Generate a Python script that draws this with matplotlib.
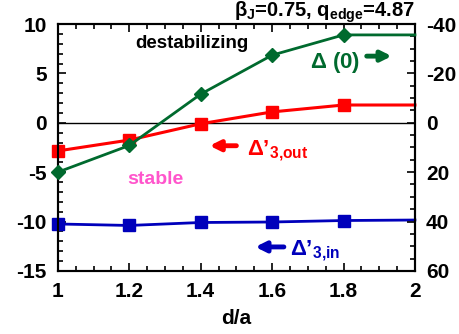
import numpy as np
import matplotlib
matplotlib.use("Agg")
import matplotlib.pyplot as plt
from matplotlib.ticker import MultipleLocator

plt.rcParams['font.family'] = ['Liberation Sans', 'DejaVu Sans']
plt.rcParams['font.weight'] = 'bold'
plt.rcParams['axes.unicode_minus'] = False
plt.rcParams['mathtext.fontset'] = 'custom'
plt.rcParams['mathtext.rm'] = 'Liberation Sans'
plt.rcParams['mathtext.bf'] = 'Liberation Sans:bold'
plt.rcParams['mathtext.it'] = 'Liberation Sans:italic'

# scan over wall position d/a
d_over_a = [1.0, 1.2, 1.4, 1.6, 1.8, 2.0]
delta3_out = [-2.85, -1.75, -0.1, 1.1, 1.8, 1.8]
delta3_in = [-10.25, -10.4, -10.1, -10.05, -9.9, -9.85]
delta0 = [20.0, 9.2, -11.6, -27.4, -35.6, -35.6]

green = '#006a2e'
red = '#ff0000'
blue = '#0000bb'
pink = '#ff55cc'

fig = plt.figure(figsize=(4.59, 3.34), dpi=100)
ax = fig.add_axes([0.126, 0.189, 0.778, 0.739])
ax2 = ax.twinx()

# last point (d/a = 2) only continues the line, no marker
mk = [0, 1, 2, 3, 4]
ax.axhline(0, color='black', lw=1.0, zorder=1)
ax.plot(d_over_a, delta3_out, color=red, lw=2.2, marker='s', ms=8,
        markevery=mk, clip_on=False, zorder=3)
ax.plot(d_over_a, delta3_in, color=blue, lw=2.0, marker='s', ms=8,
        markevery=mk, clip_on=False, zorder=3)
ax2.plot(d_over_a, delta0, color=green, lw=2.0, marker='D', ms=7,
         markevery=mk, clip_on=False, zorder=3)

ax.set_xlim(1, 2)
ax.set_ylim(-15, 10)
ax2.set_ylim(60, -40)

ax.xaxis.set_major_locator(MultipleLocator(0.2))
ax.xaxis.set_minor_locator(MultipleLocator(0.05))
ax.yaxis.set_major_locator(MultipleLocator(5))
ax.yaxis.set_minor_locator(MultipleLocator(1))
ax2.yaxis.set_major_locator(MultipleLocator(20))
ax2.yaxis.set_minor_locator(MultipleLocator(5))
ax.set_xticks(d_over_a)
ax.set_xticklabels(['1', '1.2', '1.4', '1.6', '1.8', '2'])

ax.tick_params(axis='x', which='both', direction='in', top=True, bottom=True)
ax.tick_params(axis='y', which='both', direction='in', left=True, right=False)
ax2.tick_params(axis='y', which='both', direction='in', right=True)
for a in (ax, ax2):
    a.tick_params(which='major', length=6, width=1.2, labelsize=15, pad=8)
    a.tick_params(which='minor', length=3.5, width=1.2)
    for s in a.spines.values():
        s.set_linewidth(1.5)

ax.set_xlabel('d/a', fontsize=15, fontweight='bold', labelpad=6)

tr = ax.transAxes
ax.text(0.375, 0.92, 'destabilizing', transform=tr, fontsize=13.5,
        ha='center', va='center', color='black')
ax.text(0.272, 0.37, 'stable', transform=tr, fontsize=14,
        ha='center', va='center', color=pink)

ax.text(0.705, 0.845, r'$\Delta$ (0)', transform=tr, fontsize=16,
        ha='left', va='center', color=green)
ax.annotate('', xy=(0.935, 0.87), xytext=(0.865, 0.87), xycoords=tr,
            arrowprops=dict(arrowstyle='-|>', color=green, lw=3.5,
                            mutation_scale=15, shrinkA=0, shrinkB=0))

ax.text(0.53, 0.487, r"$\Delta$’$_{\mathbf{3{,}out}}$", transform=tr,
        fontsize=16, ha='left', va='center', color=red)
ax.annotate('', xy=(0.425, 0.507), xytext=(0.50, 0.507), xycoords=tr,
            arrowprops=dict(arrowstyle='-|>', color=red, lw=3.5,
                            mutation_scale=15, shrinkA=0, shrinkB=0))

ax.text(0.65, 0.083, r"$\Delta$’$_{\mathbf{3{,}in}}$", transform=tr,
        fontsize=16, ha='left', va='center', color=blue)
ax.annotate('', xy=(0.553, 0.097), xytext=(0.633, 0.097), xycoords=tr,
            arrowprops=dict(arrowstyle='-|>', color=blue, lw=3.5,
                            mutation_scale=15, shrinkA=0, shrinkB=0))

fig.text(0.904, 0.962, r'$\mathrm{\beta}_{\mathbf{J}}$=0.75, q$_{\mathbf{edge}}$=4.87',
         fontsize=14.5, ha='right', va='center', color='black')

fig.savefig('out.png', dpi=100)
